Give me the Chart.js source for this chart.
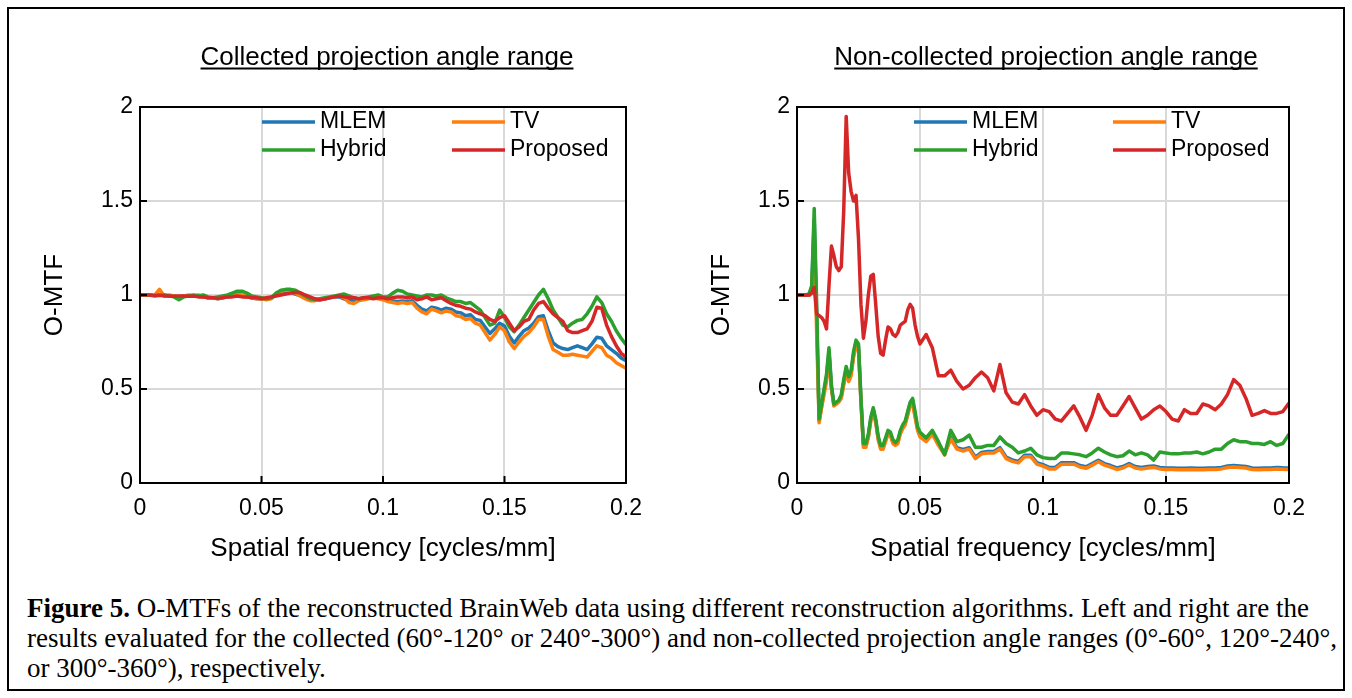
<!DOCTYPE html>
<html>
<head>
<meta charset="utf-8">
<script src="https://cdn.jsdelivr.net/npm/chart.js@4.4.1/dist/chart.umd.min.js"></script>
<style>
  body { margin: 0; background: #fff; }
  #page { position: relative; width: 1352px; height: 698px; overflow: hidden; background: #fff; }
  #frame { position: absolute; left: 7px; top: 7px; width: 1334px; height: 680px; border: 2px solid #000; }
  canvas { position: absolute; top: 0; }
  #caption {
    position: absolute; left: 27px; top: 593px;
    font-family: "Liberation Serif", "Times New Roman", serif;
    font-size: 27px; line-height: 30px; white-space: nowrap; color: #000;
  }
</style>
</head>
<body>
<div id="page">
  <div id="frame"></div>
  <canvas id="leftChart" width="676" height="580" style="left:0px"></canvas>
  <canvas id="rightChart" width="676" height="580" style="left:676px"></canvas>
  <div id="caption">
    <b>Figure 5.</b> O-MTFs of the reconstructed BrainWeb data using different reconstruction algorithms. Left and right are the<br>
    results evaluated for the collected (60°-120° or 240°-300°) and non-collected projection angle ranges (0°-60°, 120°-240°,<br>
    or 300°-360°), respectively.
  </div>
</div>
<script>
// series and axis labels
const seriesNames = ['MLEM', 'TV', 'Hybrid', 'Proposed'];
const seriesColors = ['#1f77b4', '#ff7f0e', '#2ca02c', '#d62728'];
const xTickValues = [0, 0.05, 0.1, 0.15, 0.2];
const xTickLabels = ['0', '0.05', '0.1', '0.15', '0.2'];
const yTickValues = [0, 0.5, 1, 1.5, 2];
const yTickLabels = ['0', '0.5', '1', '1.5', '2'];

// spatial frequency samples [cycles/mm], left panel
const freqLeft = [0,0.002,0.004,0.006,0.008,0.01,0.012,0.014,0.016,0.018,
  0.02,0.022,0.024,0.026,0.028,0.03,0.032,0.034,0.036,0.038,
  0.04,0.042,0.044,0.046,0.048,0.05,0.052,0.054,0.056,0.058,
  0.06,0.062,0.064,0.066,0.068,0.07,0.072,0.074,0.076,0.078,
  0.08,0.082,0.084,0.086,0.088,0.09,0.092,0.094,0.096,0.098,
  0.1,0.102,0.104,0.106,0.108,0.11,0.112,0.114,0.116,0.118,
  0.12,0.122,0.124,0.126,0.128,0.13,0.132,0.134,0.136,0.138,
  0.14,0.142,0.144,0.146,0.148,0.15,0.152,0.154,0.156,0.158,
  0.16,0.162,0.164,0.166,0.168,0.17,0.172,0.174,0.176,0.178,
  0.18,0.182,0.184,0.186,0.188,0.19,0.192,0.194,0.196,0.198,0.2];

// Collected projection angle range
const leftMLEM = [1.0,1.0,1.0,0.998,1.0,1.0,0.995,0.995,0.99,0.995,
  0.995,0.995,0.995,0.99,0.985,0.985,0.98,0.985,0.99,0.995,
  1.0,0.995,0.99,0.985,0.98,0.98,0.978,0.982,1.0,1.015,
  1.02,1.015,1.005,0.995,0.985,0.975,0.972,0.975,0.98,0.985,
  0.99,0.99,0.98,0.97,0.97,0.975,0.978,0.982,0.985,0.982,
  0.978,0.97,0.968,0.965,0.968,0.965,0.97,0.945,0.925,0.915,
  0.935,0.93,0.92,0.93,0.925,0.91,0.905,0.89,0.895,0.87,
  0.865,0.83,0.795,0.82,0.85,0.835,0.78,0.745,0.78,0.81,
  0.825,0.85,0.885,0.89,0.81,0.745,0.725,0.715,0.71,0.72,
  0.73,0.72,0.71,0.74,0.775,0.77,0.73,0.71,0.69,0.665,0.65];
const leftTV = [1.0,1.0,1.0,0.998,1.03,0.995,1.0,0.995,0.99,0.995,
  1.0,0.995,1.0,0.99,0.985,0.985,0.98,0.985,0.995,1.0,
  1.005,1.0,0.99,0.985,0.98,0.98,0.975,0.98,1.005,1.02,
  1.025,1.02,1.01,0.995,0.98,0.97,0.97,0.975,0.98,0.985,
  0.99,0.995,0.985,0.96,0.955,0.97,0.975,0.98,0.985,0.98,
  0.975,0.965,0.96,0.955,0.96,0.955,0.96,0.93,0.91,0.90,
  0.925,0.915,0.905,0.915,0.91,0.89,0.885,0.87,0.875,0.85,
  0.84,0.80,0.76,0.79,0.83,0.81,0.75,0.715,0.75,0.78,
  0.80,0.83,0.87,0.87,0.78,0.71,0.695,0.68,0.68,0.685,
  0.68,0.675,0.67,0.70,0.73,0.72,0.68,0.665,0.64,0.625,0.61];
const leftHybrid = [1.0,1.0,0.998,0.995,1.0,1.0,0.995,0.99,0.975,0.99,
  0.995,1.0,0.995,1.0,0.99,0.985,0.99,0.995,1.0,1.01,
  1.02,1.02,1.01,0.995,0.99,0.985,0.98,0.985,1.01,1.025,
  1.03,1.03,1.025,1.01,0.995,0.98,0.975,0.98,0.985,0.99,
  0.995,1.0,1.005,0.995,0.985,0.98,0.985,0.99,0.995,1.0,
  0.99,0.99,1.01,1.025,1.02,1.005,1.0,0.995,0.99,1.0,
  1.0,0.995,1.0,0.985,0.975,0.965,0.965,0.955,0.96,0.94,
  0.92,0.88,0.84,0.85,0.92,0.88,0.83,0.805,0.84,0.88,
  0.92,0.96,1.0,1.03,0.98,0.92,0.88,0.84,0.83,0.85,
  0.865,0.87,0.90,0.94,0.99,0.96,0.90,0.86,0.81,0.77,0.735];
const leftProposed = [1.0,1.0,1.0,0.998,0.998,0.995,0.995,0.993,0.995,0.995,
  0.993,0.995,0.99,0.99,0.985,0.985,0.982,0.985,0.99,0.99,
  0.995,0.99,0.99,0.985,0.985,0.98,0.985,0.99,0.995,1.0,
  1.005,1.01,1.015,1.012,1.0,0.99,0.98,0.975,0.978,0.985,
  0.99,0.995,0.99,0.985,0.985,0.98,0.985,0.985,0.98,0.985,
  0.985,0.98,0.985,0.99,0.99,0.985,0.99,0.975,0.98,0.99,
  0.975,0.98,0.985,0.97,0.955,0.945,0.94,0.93,0.925,0.91,
  0.90,0.89,0.87,0.86,0.88,0.89,0.85,0.81,0.83,0.86,
  0.87,0.92,0.955,0.965,0.93,0.90,0.88,0.86,0.81,0.80,
  0.80,0.81,0.82,0.86,0.935,0.93,0.84,0.78,0.73,0.69,0.67];

// spatial frequency samples [cycles/mm], right panel (finer near 0)
const freqRight = [0,0.001,0.002,0.003,0.004,0.005,0.006,0.007,0.008,0.009,
  0.01,0.011,0.012,0.013,0.014,0.015,0.016,0.017,0.018,0.019,
  0.02,0.021,0.022,0.023,0.024,0.025,0.026,0.027,0.028,0.029,
  0.03,0.031,0.032,0.033,0.034,0.035,0.036,0.037,0.038,0.039,
  0.04,0.041,0.042,0.043,0.044,0.045,0.046,0.047,0.048,0.049,0.05,
  0.0525,0.055,0.0575,0.06,0.0625,0.065,0.0675,0.07,0.0725,0.075,
  0.0775,0.08,0.0825,0.085,0.0875,0.09,0.0925,0.095,0.0975,0.1,
  0.1025,0.105,0.1075,0.11,0.1125,0.115,0.1175,0.12,0.1225,0.125,
  0.1275,0.13,0.1325,0.135,0.1375,0.14,0.1425,0.145,0.1475,0.15,
  0.1525,0.155,0.1575,0.16,0.1625,0.165,0.1675,0.17,0.1725,0.175,
  0.1775,0.18,0.1825,0.185,0.1875,0.19,0.1925,0.195,0.1975,0.2];

// Non-collected projection angle range
const rightMLEM = [1.0,1.0,1.0,1.0,1.0,1.0,1.04,1.40,0.88,0.33,
  0.41,0.49,0.56,0.70,0.51,0.415,0.425,0.435,0.46,0.535,
  0.605,0.55,0.585,0.685,0.745,0.725,0.44,0.20,0.20,0.25,
  0.34,0.39,0.33,0.24,0.19,0.19,0.23,0.27,0.26,0.22,
  0.205,0.22,0.27,0.30,0.32,0.37,0.42,0.435,0.36,0.29,0.25,
  0.228,0.268,0.208,0.158,0.243,0.188,0.178,0.188,0.138,0.163,
  0.168,0.168,0.188,0.138,0.123,0.115,0.148,0.148,0.108,0.098,
  0.083,0.083,0.108,0.108,0.108,0.093,0.086,0.103,0.121,0.103,
  0.093,0.08,0.088,0.104,0.088,0.083,0.088,0.091,0.083,0.08,
  0.08,0.078,0.078,0.08,0.078,0.078,0.08,0.08,0.083,0.09,
  0.093,0.091,0.088,0.08,0.078,0.08,0.08,0.083,0.081,0.08];
const rightTV = [1.0,1.0,1.0,1.0,1.0,1.0,1.03,1.30,0.80,0.32,
  0.40,0.47,0.54,0.68,0.50,0.41,0.42,0.43,0.45,0.52,
  0.59,0.54,0.57,0.67,0.73,0.71,0.43,0.19,0.19,0.24,
  0.33,0.38,0.32,0.23,0.18,0.18,0.22,0.26,0.25,0.21,
  0.20,0.21,0.26,0.29,0.31,0.36,0.41,0.42,0.35,0.28,0.245,
  0.22,0.26,0.20,0.15,0.235,0.18,0.17,0.18,0.13,0.155,
  0.16,0.16,0.18,0.13,0.115,0.107,0.14,0.14,0.10,0.09,
  0.075,0.075,0.10,0.10,0.10,0.085,0.078,0.095,0.113,0.095,
  0.085,0.072,0.08,0.096,0.08,0.075,0.08,0.083,0.075,0.072,
  0.072,0.07,0.07,0.072,0.07,0.07,0.072,0.072,0.075,0.082,
  0.085,0.083,0.08,0.072,0.07,0.072,0.072,0.075,0.073,0.072];
const rightHybrid = [1.0,1.0,1.0,1.0,1.0,1.01,1.05,1.46,0.95,0.34,
  0.42,0.50,0.58,0.72,0.52,0.42,0.43,0.44,0.47,0.55,
  0.62,0.565,0.60,0.70,0.76,0.74,0.45,0.21,0.21,0.26,
  0.35,0.40,0.34,0.25,0.20,0.20,0.24,0.28,0.27,0.23,
  0.215,0.23,0.28,0.31,0.33,0.38,0.43,0.45,0.38,0.30,0.27,
  0.24,0.28,0.22,0.15,0.28,0.22,0.23,0.255,0.19,0.19,
  0.20,0.20,0.245,0.21,0.19,0.16,0.17,0.185,0.15,0.135,
  0.13,0.13,0.16,0.16,0.155,0.15,0.14,0.16,0.185,0.165,
  0.15,0.14,0.145,0.17,0.15,0.16,0.15,0.122,0.165,0.16,
  0.155,0.155,0.16,0.16,0.165,0.155,0.165,0.18,0.18,0.21,
  0.23,0.22,0.22,0.21,0.21,0.205,0.22,0.20,0.21,0.26];
const rightProposed = [1.0,1.0,1.0,1.0,1.0,1.0,1.01,1.04,0.90,0.89,
  0.88,0.86,0.82,1.05,1.26,1.21,1.15,1.13,1.15,1.45,
  1.95,1.65,1.55,1.50,1.53,1.30,0.95,0.77,0.86,1.00,
  1.10,1.11,0.95,0.78,0.69,0.68,0.76,0.83,0.82,0.79,
  0.78,0.80,0.84,0.85,0.86,0.92,0.95,0.93,0.84,0.78,0.74,
  0.79,0.72,0.57,0.57,0.60,0.54,0.50,0.52,0.56,0.59,
  0.56,0.49,0.63,0.48,0.43,0.42,0.47,0.41,0.36,0.39,
  0.38,0.34,0.33,0.37,0.41,0.35,0.28,0.36,0.47,0.40,
  0.36,0.36,0.41,0.46,0.40,0.34,0.36,0.39,0.41,0.38,
  0.34,0.33,0.39,0.37,0.37,0.42,0.41,0.39,0.42,0.47,
  0.55,0.52,0.45,0.36,0.37,0.385,0.37,0.37,0.38,0.425];

const FONT = '"Liberation Sans", Arial, sans-serif';
Chart.defaults.font.family = FONT;
Chart.defaults.color = '#000';

// title, legend inside the plot, inward ticks and plot frame
function decorPlugin(o) {
  return {
    id: 'decor',
    afterDatasetsDraw(chart) {
      const {ctx, chartArea: a, scales: {x, y}} = chart;
      ctx.save();
      ctx.strokeStyle = '#000';
      ctx.lineWidth = 2;
      ctx.beginPath();
      xTickValues.forEach(v => {
        const px = x.getPixelForValue(v);
        ctx.moveTo(px, a.bottom); ctx.lineTo(px, a.bottom - 7);
      });
      yTickValues.forEach(v => {
        const py = y.getPixelForValue(v);
        ctx.moveTo(a.left, py); ctx.lineTo(a.left + 7, py);
      });
      ctx.stroke();
      ctx.strokeRect(a.left, a.top, a.right - a.left, a.bottom - a.top);

      // legend, two columns
      ctx.font = '23px ' + FONT;
      ctx.textBaseline = 'middle';
      ctx.textAlign = 'left';
      ctx.lineWidth = 3.5;
      seriesNames.forEach((name, k) => {
        const lx = o.legendX[k % 2];
        const ly = a.top + (k < 2 ? 15 : 43);
        ctx.strokeStyle = seriesColors[k];
        ctx.beginPath(); ctx.moveTo(lx, ly); ctx.lineTo(lx + 53, ly); ctx.stroke();
        ctx.fillStyle = '#000';
        ctx.fillText(name, lx + 58, ly);
      });

      // underlined title
      ctx.font = '26px ' + FONT;
      ctx.textAlign = 'center';
      ctx.textBaseline = 'alphabetic';
      ctx.fillText(o.title, o.titleX, 65);
      const w = ctx.measureText(o.title).width;
      ctx.fillRect(o.titleX - w / 2, 67.5, w, 2);
      ctx.restore();
    }
  };
}

function makeChart(id, freq, series, o) {
  new Chart(document.getElementById(id), {
    type: 'line',
    data: {
      datasets: series.map((vals, k) => ({
        label: seriesNames[k],
        data: freq.map((f, i) => ({x: f, y: vals[i]})),
        borderColor: seriesColors[k],
        borderWidth: 3.5,
        pointRadius: 0,
        tension: 0,
        borderJoinStyle: 'round',
        order: 4 - k
      }))
    },
    options: {
      responsive: false,
      animation: false,
      layout: {padding: {left: 0, right: o.padRight, top: 107, bottom: 0}},
      plugins: {legend: {display: false}, tooltip: {enabled: false}},
      scales: {
        x: {
          type: 'linear', min: 0, max: 0.2,
          afterBuildTicks: s => { s.ticks = xTickValues.map(v => ({value: v})); },
          afterFit: s => { s.height = 97; },
          ticks: {callback: (v, i) => xTickLabels[i], font: {size: 23}, padding: 12, maxRotation: 0, autoSkip: false},
          grid: {color: '#d9d9d9', lineWidth: 2, drawTicks: false},
          border: {display: false},
          title: {display: true, text: 'Spatial frequency [cycles/mm]', font: {size: 26}, padding: {top: 0, bottom: 16}}
        },
        y: {
          min: 0, max: 2,
          afterBuildTicks: s => { s.ticks = yTickValues.map(v => ({value: v})); },
          afterFit: s => { s.width = o.yWidth; },
          ticks: {callback: (v, i) => yTickLabels[i], font: {size: 23}, padding: 7},
          grid: {color: '#d9d9d9', lineWidth: 2, drawTicks: false},
          border: {display: false},
          title: {display: true, text: 'O-MTF', font: {size: 26}, padding: {top: o.yTitlePad, bottom: 0}}
        }
      }
    },
    plugins: [decorPlugin(o)]
  });
}

makeChart('leftChart', freqLeft, [leftMLEM, leftTV, leftHybrid, leftProposed], {
  title: 'Collected projection angle range', titleX: 387,
  legendX: [262, 452], yWidth: 140, yTitlePad: 39, padRight: 50
});
makeChart('rightChart', freqRight, [rightMLEM, rightTV, rightHybrid, rightProposed], {
  title: 'Non-collected projection angle range', titleX: 370,
  legendX: [238, 437], yWidth: 121, yTitlePad: 30, padRight: 63
});
</script>
</body>
</html>
